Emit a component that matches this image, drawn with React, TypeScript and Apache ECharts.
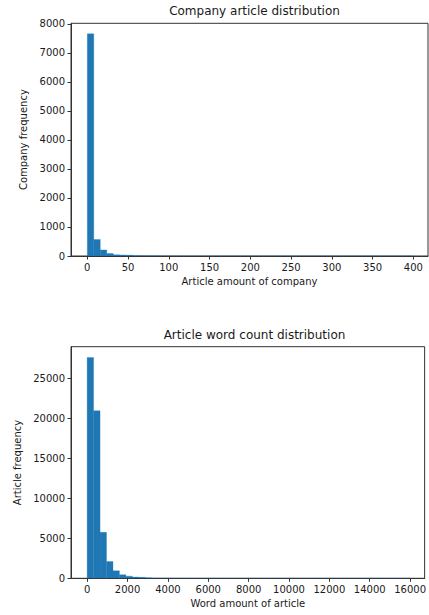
import React, { useEffect, useRef } from "react";
import * as echarts from "echarts";

// Histogram 1: articles per company (50 bins from 0 to 398)
const companyBinStart = 0;
const companyBinWidth = 7.96;
const companyCounts = [
  7660, 570, 210, 85, 40, 35, 30, 12, 8, 6,
  5, 3, 2, 2, 1, 1, 1, 0, 1, 0,
  0, 1, 0, 0, 0, 0, 1, 0, 0, 0,
  0, 0, 0, 1, 0, 0, 0, 0, 0, 0,
  0, 0, 0, 0, 0, 0, 0, 0, 0, 1,
];
const companyXTicks = [0, 50, 100, 150, 200, 250, 300, 350, 400];
const companyYTicks = [0, 1000, 2000, 3000, 4000, 5000, 6000, 7000, 8000];

// Histogram 2: words per article (50 bins from 0 to 16000)
const wordBinStart = 0;
const wordBinWidth = 320;
const wordCounts = [
  27600, 20950, 5750, 2100, 930, 450, 270, 150, 120, 60,
  40, 25, 15, 10, 8, 5, 4, 3, 2, 2,
  1, 1, 1, 0, 1, 0, 0, 1, 0, 0,
  0, 0, 1, 0, 0, 0, 0, 0, 0, 0,
  0, 1, 0, 0, 0, 0, 0, 0, 0, 1,
];
const wordXTicks = [0, 2000, 4000, 6000, 8000, 10000, 12000, 14000, 16000];
const wordYTicks = [0, 5000, 10000, 15000, 20000, 25000];

const toBins = (start: number, width: number, counts: number[]) =>
  counts.map((c, i) => [start + i * width, start + (i + 1) * width, c]);

const FONT = "DejaVu Sans";
const TXT = "#1a1a1a";
const SPINE = "#333";
const BAR = "#1f77b4";

const renderBin = (_params: any, api: any) => {
  const x0 = api.value(0);
  const x1 = api.value(1);
  const y = api.value(2);
  const p0 = api.coord([x0, y]);
  const p1 = api.coord([x1, 0]);
  return {
    type: "rect",
    shape: { x: p0[0], y: p0[1], width: p1[0] - p0[0], height: p1[1] - p0[1] },
    style: { fill: BAR, stroke: BAR, lineWidth: 0.3 },
  };
};

const plainLabel = (v: number) => String(v);

const xAxisCommon = (gridIndex: number, name: string, ticks: number[], min: number, max: number) => ({
  type: "value",
  gridIndex,
  min,
  max,
  name,
  nameLocation: "middle",
  nameGap: 20,
  nameTextStyle: { fontFamily: FONT, fontSize: 10, color: TXT },
  axisLine: { show: true, onZero: false, lineStyle: { color: SPINE, width: 1 } },
  axisTick: { show: true, length: 3.5, lineStyle: { color: SPINE }, customValues: ticks },
  axisLabel: { fontFamily: FONT, fontSize: 10, color: TXT, margin: 6, customValues: ticks, formatter: plainLabel },
  splitLine: { show: false },
});

const yAxisCommon = (gridIndex: number, name: string, ticks: number[], max: number, gap: number) => ({
  type: "value",
  gridIndex,
  min: 0,
  max,
  name,
  nameLocation: "middle",
  nameGap: gap,
  nameTextStyle: { fontFamily: FONT, fontSize: 10, color: TXT },
  axisLine: { show: true, onZero: false, lineStyle: { color: SPINE, width: 1 } },
  axisTick: { show: true, length: 3.5, lineStyle: { color: SPINE }, customValues: ticks },
  axisLabel: { fontFamily: FONT, fontSize: 10, color: TXT, margin: 6, customValues: ticks, formatter: plainLabel },
  splitLine: { show: false },
});

export default function App() {
  const ref = useRef<HTMLDivElement>(null);
  useEffect(() => {
    if (!ref.current) return;
    const chart = echarts.init(ref.current, undefined, { renderer: "svg" });
    chart.setOption({
      animation: false,
      backgroundColor: "#fff",
      title: [
        {
          text: "Company article distribution",
          left: 249.5,
          top: 0,
          textAlign: "center",
          textStyle: { fontFamily: FONT, fontSize: 12, fontWeight: "normal", color: TXT },
        },
        {
          text: "Article word count distribution",
          left: 249.5,
          top: 324,
          textAlign: "center",
          textStyle: { fontFamily: FONT, fontSize: 12, fontWeight: "normal", color: TXT },
        },
      ],
      grid: [
        { left: 71, top: 23.3, width: 357, height: 232.7, show: true, borderColor: SPINE, borderWidth: 1, backgroundColor: "transparent" },
        { left: 71, top: 346.7, width: 357, height: 231.6, show: true, borderColor: SPINE, borderWidth: 1, backgroundColor: "transparent" },
      ],
      xAxis: [
        xAxisCommon(0, "Article amount of company", companyXTicks, -20, 418),
        xAxisCommon(1, "Word amount of article", wordXTicks, -800, 16720),
      ],
      yAxis: [
        yAxisCommon(0, "Company frequency", companyYTicks, 8024, 41),
        yAxisCommon(1, "Article frequency", wordYTicks, 28950, 47),
      ],
      series: [
        {
          type: "custom",
          xAxisIndex: 0,
          yAxisIndex: 0,
          clip: true,
          renderItem: renderBin,
          encode: { x: [0, 1], y: 2 },
          data: toBins(companyBinStart, companyBinWidth, companyCounts),
        },
        {
          type: "custom",
          xAxisIndex: 1,
          yAxisIndex: 1,
          clip: true,
          renderItem: renderBin,
          encode: { x: [0, 1], y: 2 },
          data: toBins(wordBinStart, wordBinWidth, wordCounts),
        },
      ],
    });
    return () => chart.dispose();
  }, []);
  return (
    <div
      ref={ref}
      style={{ position: "fixed", left: 0, top: 0, width: 429, height: 615, background: "#fff" }}
    />
  );
}
